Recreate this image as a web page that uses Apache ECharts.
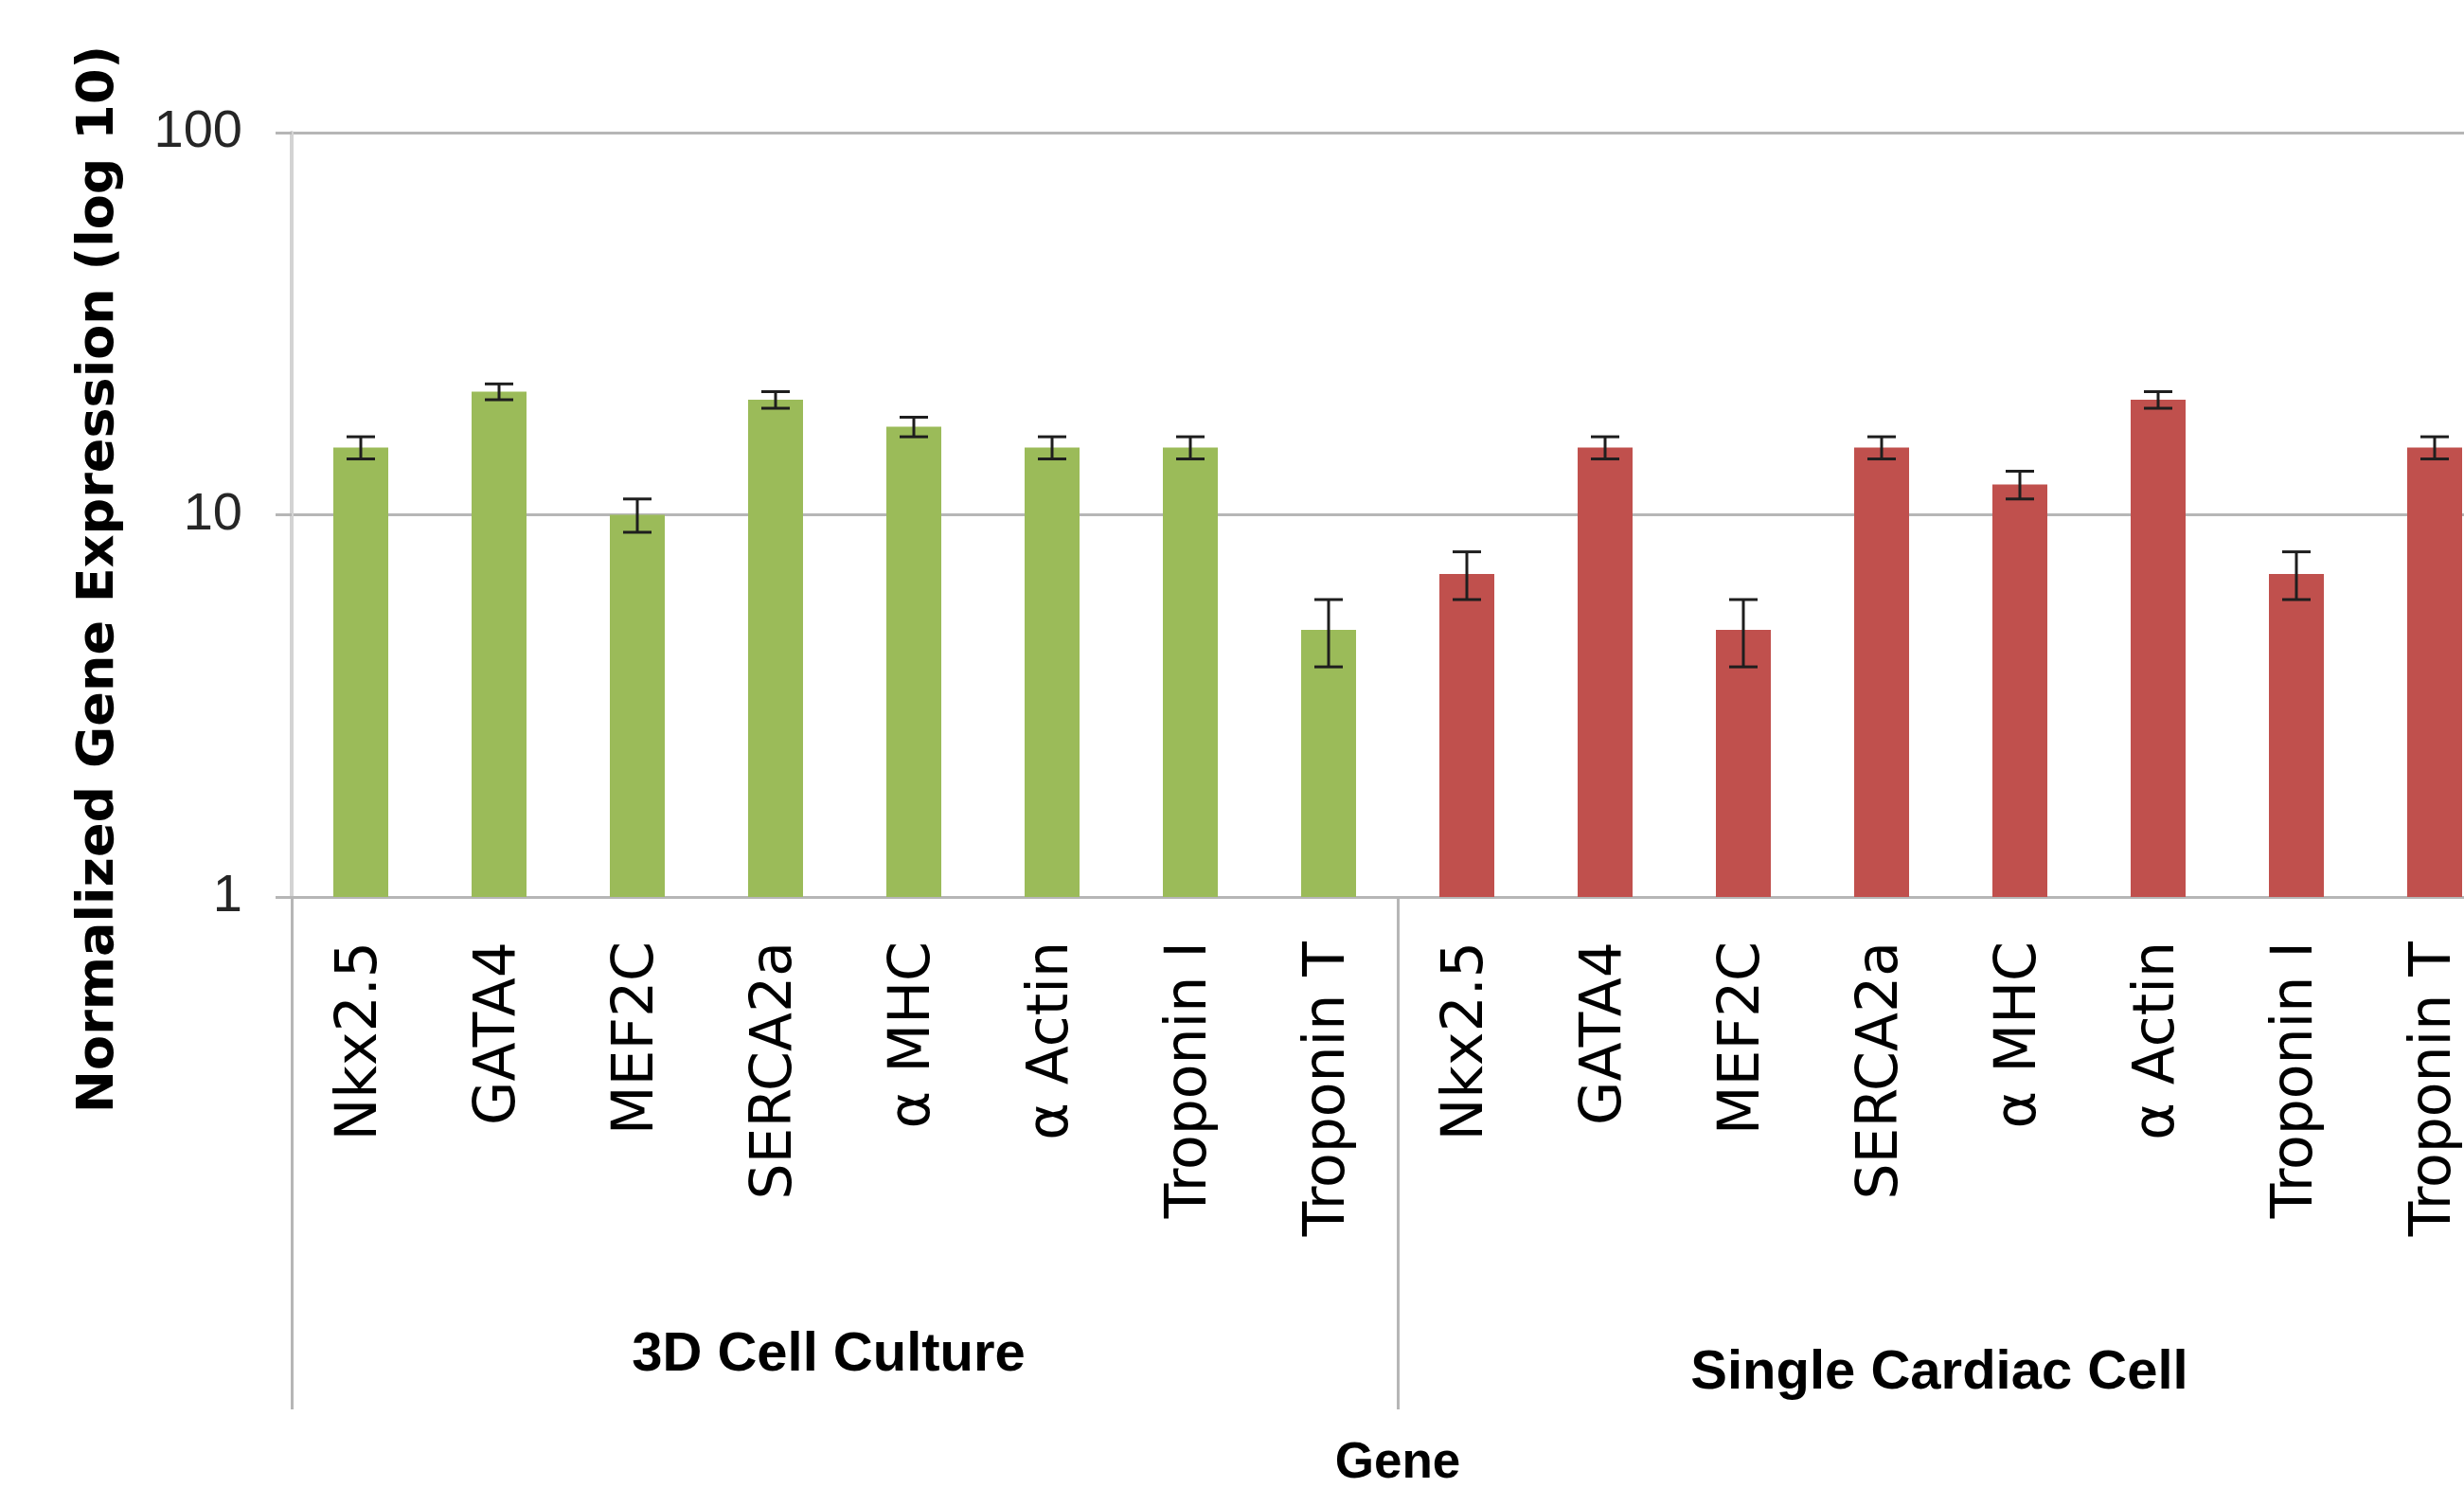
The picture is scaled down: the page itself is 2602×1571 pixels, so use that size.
<!DOCTYPE html>
<html><head><meta charset="utf-8">
<script src="https://cdn.jsdelivr.net/npm/echarts@6/dist/echarts.min.js"></script>
<style>html,body{margin:0;padding:0;background:#fff}#c{width:2602px;height:1571px}</style>
</head><body><div id="c"></div>
<script>
const genes = ['Nkx2.5', 'GATA4', 'MEF2C', 'SERCA2a', 'α MHC', 'α Actin', 'Troponin I', 'Troponin T'];
const groups = ['3D Cell Culture', 'Single Cardiac Cell'];
const cultureValues = [15, 21, 10, 20, 17, 15, 15, 5];
const cultureErrors = [1, 1, 1, 1, 1, 1, 1, 1];
const singleCellValues = [7, 15, 5, 15, 12, 20, 7, 15];
const singleCellErrors = [1, 1, 1, 1, 1, 1, 1, 1];
const yTicks = ['1', '10', '100'];

const categories = genes.concat(genes);
const n = genes.length;
const cultureSeries = categories.map((_, i) => i < n ? cultureValues[i] : '-');
const singleSeries = categories.map((_, i) => i >= n ? singleCellValues[i - n] : '-');
const errData = [];
cultureValues.forEach((v, i) => errData.push([i, v - cultureErrors[i], v + cultureErrors[i]]));
singleCellValues.forEach((v, i) => errData.push([i + n, v - singleCellErrors[i], v + singleCellErrors[i]]));

const gridColor = '#b6b6b6';
const sans = "'Liberation Sans', Arial, sans-serif";

function renderErr(params, api) {
  const x = api.value(0);
  const lo = api.coord([x, api.value(1)]);
  const hi = api.coord([x, api.value(2)]);
  const hw = 15;
  const st = { stroke: '#1e1e1e', lineWidth: 3 };
  return {
    type: 'group',
    children: [
      { type: 'line', shape: { x1: hi[0], y1: hi[1], x2: lo[0], y2: lo[1] }, style: st },
      { type: 'line', shape: { x1: hi[0] - hw, y1: hi[1], x2: hi[0] + hw, y2: hi[1] }, style: st },
      { type: 'line', shape: { x1: lo[0] - hw, y1: lo[1], x2: lo[0] + hw, y2: lo[1] }, style: st }
    ]
  };
}

const chart = echarts.init(document.getElementById('c'), null, { renderer: 'canvas' });
chart.setOption({
  backgroundColor: '#ffffff',
  animation: false,
  grid: { left: 308, top: 140, bottom: 624, width: 2336, containLabel: false, outerBoundsMode: 'none' },
  xAxis: [
    {
      type: 'category',
      data: categories,
      position: 'bottom',
      axisLine: { show: true, lineStyle: { color: gridColor, width: 3 } },
      axisTick: { show: false },
      axisLabel: {
        interval: 0, rotate: 90, margin: 47,
        fontFamily: 'DejaVu Sans', fontSize: 60, color: '#000'
      }
    },
    {
      type: 'category',
      data: groups,
      position: 'bottom',
      axisLine: { show: false },
      axisTick: { show: true, interval: 0, length: 541, lineStyle: { color: gridColor, width: 3 } },
      axisLabel: {
        interval: 0, margin: 455,
        formatter: (v, i) => i === 0 ? '{a|' + v + '}' : '{b|' + v + '}',
        rich: {
          a: { fontFamily: sans, fontWeight: 'bold', fontSize: 58, color: '#000', padding: [0, 34, 0, 0] },
          b: { fontFamily: sans, fontWeight: 'bold', fontSize: 58, color: '#000', padding: [19, 24, 0, 0] }
        }
      },
      name: 'Gene',
      nameLocation: 'middle',
      nameGap: 572,
      nameTextStyle: { fontFamily: sans, fontWeight: 'bold', fontSize: 53, color: '#000' }
    }
  ],
  yAxis: {
    type: 'log',
    logBase: 10,
    min: 1,
    max: 100,
    axisLine: { show: true, lineStyle: { color: '#d3d3d3', width: 4 } },
    axisTick: { show: true, length: 17, lineStyle: { color: gridColor, width: 3 } },
    splitLine: { show: true, lineStyle: { color: gridColor, width: 3 } },
    axisLabel: {
      margin: 52, fontFamily: sans, fontSize: 56, color: '#262626',
      formatter: v => yTicks[Math.round(Math.log10(v))]
    },
    name: 'Normalized Gene Expression (log 10)',
    nameLocation: 'middle',
    nameGap: 176,
    nameTextStyle: {
      fontFamily: 'DejaVu Sans', fontWeight: 'bold', fontSize: 54, color: '#000',
      padding: [0, 136, 0, 0]
    }
  },
  series: [
    {
      name: groups[0], type: 'bar', data: cultureSeries, barWidth: 58, barGap: '-100%',
      itemStyle: { color: '#9BBB59' }
    },
    {
      name: groups[1], type: 'bar', data: singleSeries, barWidth: 58, barGap: '-100%',
      itemStyle: { color: '#C0504D' }
    },
    {
      type: 'custom', data: errData, renderItem: renderErr,
      encode: { x: 0, y: [1, 2] }, z: 5
    }
  ]
});
</script></body></html>
